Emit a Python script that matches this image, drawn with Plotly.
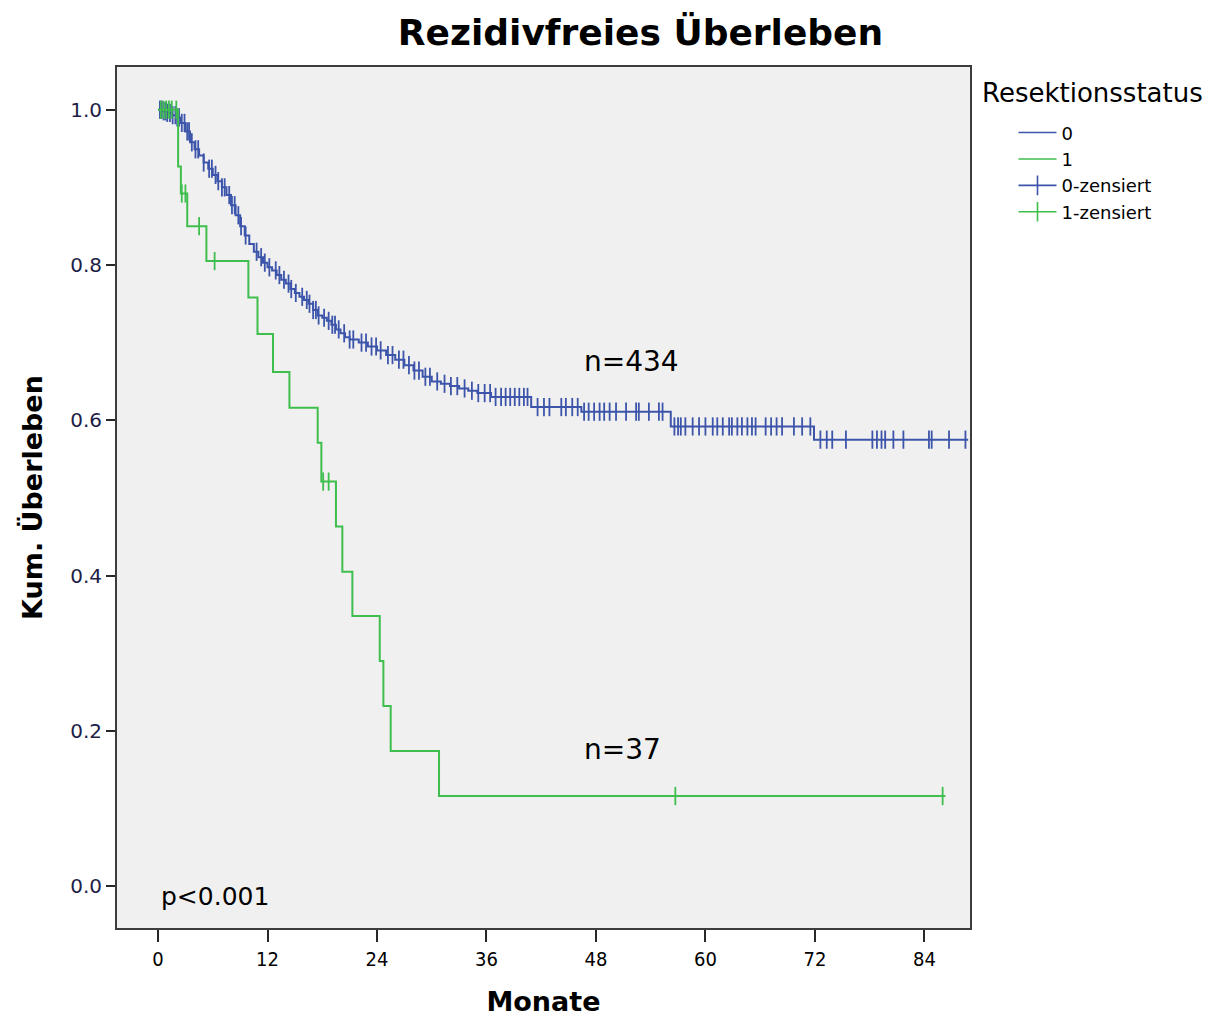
import plotly.graph_objects as go
import numpy as np

# ---------------- data ----------------
# Group 0 (n=434): Kaplan-Meier step points (time in months, survival after step)
t0 = [0, 0.5, 1.0, 1.5, 2.0, 2.5, 3.0, 3.5, 4.0, 4.5, 5.0, 5.5, 6.0, 6.5, 7.0, 7.5,
      8.0, 8.5, 9.0, 9.5, 10.0, 10.5, 11.0, 11.5, 12.0, 12.5, 13.0, 13.5, 14.0, 14.5,
      15.0, 15.5, 16.0, 16.5, 17.0, 17.5, 18.0, 18.5, 19.0, 19.5, 20.0, 20.5, 21.0,
      22.0, 23.0, 24.0, 25.0, 26.0, 27.0, 28.0, 29.0, 30.0, 31.0, 32.0, 33.0, 34.0,
      35.0, 36.5, 40.9, 46.4, 56.2, 71.9]
s0 = [1.0, 0.998, 0.996, 0.993, 0.990, 0.983, 0.972, 0.958, 0.949, 0.941, 0.932, 0.924,
      0.916, 0.908, 0.900, 0.890, 0.877, 0.864, 0.850, 0.838, 0.827, 0.817, 0.810, 0.803,
      0.797, 0.793, 0.787, 0.781, 0.776, 0.769, 0.764, 0.759, 0.755, 0.750, 0.742, 0.735,
      0.732, 0.728, 0.723, 0.717, 0.712, 0.707, 0.704, 0.700, 0.695, 0.690, 0.684, 0.678,
      0.671, 0.664, 0.656, 0.650, 0.647, 0.644, 0.641, 0.638, 0.635, 0.630, 0.617, 0.611,
      0.592, 0.575]
end0 = 88.8
cens0 = [0.2, 0.4, 0.6, 0.8, 1.0, 1.3, 1.6, 1.9, 2.1, 2.3, 2.6, 2.9, 3.2, 3.4, 3.7, 4.1,
         4.4, 5.0, 5.6, 5.9, 6.3, 6.6, 7.0, 7.3, 7.8, 8.1, 8.4, 8.8, 9.1, 9.6, 10.8, 11.3,
         11.7, 12.2, 12.9, 13.3, 13.8, 14.3, 14.6, 15.1, 15.8, 16.3, 16.6, 17.0, 17.3,
         17.6, 18.2, 18.7, 19.1, 19.4, 19.8, 20.4, 21.0, 21.4, 22.3, 22.8, 23.4, 23.9,
         24.4, 25.2, 25.7, 26.4, 26.9, 27.5, 28.1, 28.6, 29.3, 29.8, 30.6, 31.4, 32.1,
         32.8, 33.6, 34.4, 35.1, 35.8, 36.4, 37.0, 37.6, 38.1, 38.6, 39.1, 39.6, 40.1,
         40.5, 41.6, 42.3, 42.9, 44.2, 44.7, 45.4, 46.0, 46.7, 47.2, 47.8, 48.4, 48.9,
         49.5, 50.2, 51.3, 52.4, 52.7, 53.8, 54.9, 55.3, 56.6, 57.0, 57.3, 57.8, 58.6,
         59.3, 60.0, 60.8, 61.3, 61.9, 62.6, 62.9, 63.5, 64.0, 64.6, 65.1, 65.5, 66.6,
         67.2, 67.8, 68.4, 69.7, 70.6, 71.5, 72.6, 73.3, 73.9, 75.4, 78.3, 78.8, 79.3,
         79.7, 80.6, 81.7, 84.5, 84.8, 86.7, 88.5]

# Group 1 (n=37)
t1 = [0, 2.2, 2.5, 3.2, 5.3, 9.9, 10.9, 12.6, 14.4, 17.5, 17.9, 19.5, 20.2, 21.3,
      24.3, 24.7, 25.5, 30.8]
s1 = [1.0, 0.927, 0.892, 0.850, 0.805, 0.758, 0.711, 0.662, 0.616, 0.571, 0.521,
      0.463, 0.405, 0.348, 0.290, 0.232, 0.174, 0.116]
end1 = 86.3
cens1 = [0.3, 0.6, 0.9, 1.2, 1.5, 2.0, 2.6, 3.0, 4.5, 6.2, 18.1, 18.7, 56.7, 86.0]

x_ticks = [0, 12, 24, 36, 48, 60, 72, 84]
y_ticks = [0.0, 0.2, 0.4, 0.6, 0.8, 1.0]

BLUE = "rgb(60,85,170)"
GREEN = "rgb(62,190,76)"


def surv_at(times, surv, t):
    idx = np.searchsorted(np.array(times), t, side="right") - 1
    return surv[max(idx, 0)]


fig = go.Figure()

for times, surv, end, cens, col in [
    (t0, s0, end0, cens0, BLUE),
    (t1, s1, end1, cens1, GREEN),
]:
    fig.add_trace(go.Scatter(
        x=list(times) + [end], y=list(surv) + [surv[-1]],
        mode="lines", line=dict(color=col, width=2, shape="hv"),
        showlegend=False, hoverinfo="skip"))
    fig.add_trace(go.Scatter(
        x=cens, y=[surv_at(times, surv, c) for c in cens],
        mode="markers",
        marker=dict(symbol="line-ns-open", size=13, color=col,
                    line=dict(color=col, width=1.8)),
        showlegend=False, hoverinfo="skip"))

# legend-only entries
fig.add_trace(go.Scatter(x=[None], y=[None], mode="lines", name="0",
                         line=dict(color=BLUE, width=1.6, shape="hv")))
fig.add_trace(go.Scatter(x=[None], y=[None], mode="lines", name="1",
                         line=dict(color=GREEN, width=1.6, shape="hv")))
fig.add_trace(go.Scatter(x=[None], y=[None], mode="lines+markers", name="0-zensiert",
                         line=dict(color=BLUE, width=1.6),
                         marker=dict(symbol="line-ns-open", size=14, color=BLUE,
                                     line=dict(color=BLUE, width=1.6))))
fig.add_trace(go.Scatter(x=[None], y=[None], mode="lines+markers", name="1-zensiert",
                         line=dict(color=GREEN, width=1.6),
                         marker=dict(symbol="line-ns-open", size=14, color=GREEN,
                                     line=dict(color=GREEN, width=1.6))))

fig.add_annotation(x=51.9, y=0.676, text="n=434", showarrow=False,
                   font=dict(size=28, color="black", family="DejaVu Sans"))
fig.add_annotation(x=50.9, y=0.176, text="n=37", showarrow=False,
                   font=dict(size=28, color="black", family="DejaVu Sans"))
fig.add_annotation(x=6.2, y=-0.014, text="p<0.001", showarrow=False,
                   font=dict(size=25, color="black", family="DejaVu Sans"))
# legend title
fig.add_annotation(xref="paper", yref="paper", x=1.012, y=0.970, xanchor="left",
                   yanchor="middle", text="Resektionsstatus", showarrow=False,
                   font=dict(size=26, color="black", family="DejaVu Sans"))

fig.update_layout(
    width=1220, height=1018,
    margin=dict(l=117, r=250, t=67, b=90),
    paper_bgcolor="white", plot_bgcolor="rgb(240,240,240)",
    title=dict(text="<b>Rezidivfreies Überleben</b>", x=0.525, xanchor="center",
               y=0.968, yanchor="middle",
               font=dict(family="DejaVu Sans", size=36, color="black")),
    legend=dict(x=1.051, xanchor="left", y=0.945, yanchor="top",
                font=dict(family="DejaVu Sans", size=18, color="black"),
                bgcolor="rgba(0,0,0,0)", tracegroupgap=0, itemwidth=38),
    showlegend=True,
)

fig.update_xaxes(range=[-4.5, 89], tickvals=x_ticks, ticktext=[str(v) for v in x_ticks],
                 automargin=False,
                 showgrid=False, zeroline=False, showline=True, mirror=True,
                 linecolor="rgb(60,60,60)", linewidth=2, ticks="outside", ticklen=12,
                 tickwidth=2, tickcolor="rgb(40,40,40)",
                 tickfont=dict(family="Liberation Sans Narrow, DejaVu Sans Condensed", size=20,
                               color="black"),
                 title=dict(text="<b>Monate</b>", standoff=22,
                            font=dict(family="DejaVu Sans", size=27, color="black")))
fig.update_yaxes(range=[-0.054, 1.055], tickvals=y_ticks,
                 ticktext=[f"{v:.1f}" for v in y_ticks],
                 automargin=False,
                 showgrid=False, zeroline=False, showline=True, mirror=True,
                 linecolor="rgb(60,60,60)", linewidth=2, ticks="outside", ticklen=9,
                 tickwidth=2, tickcolor="rgb(40,40,40)",
                 tickfont=dict(family="DejaVu Sans", size=20, color="rgb(30,30,70)"),
                 title=dict(text="<b>Kum. Überleben</b>", standoff=20,
                            font=dict(family="DejaVu Sans", size=27, color="black")))

fig.write_html("out.html")
